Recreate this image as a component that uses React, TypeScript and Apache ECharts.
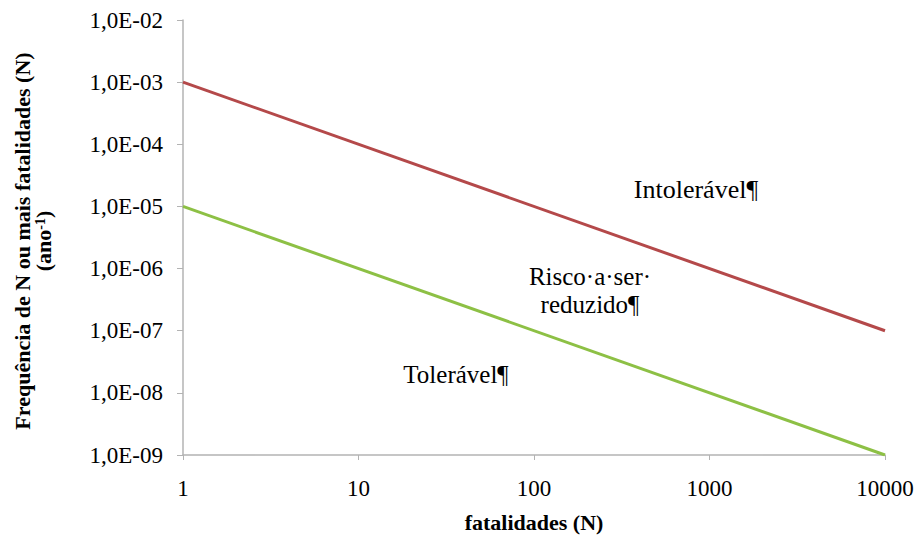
import React, { useEffect, useRef } from "react";
import * as echarts from "echarts";

const fatalities = [1, 10000];
const intolerableLimit = [1e-3, 1e-7];
const tolerableLimit = [1e-5, 1e-9];
const xTickLabels = ["1", "10", "100", "1000", "10000"];
const regionLabels = ["Intolerável¶", "Risco·a·ser·\nreduzido¶", "Tolerável¶"];

const SERIF = "Liberation Serif";

function fmtY(v: number): string {
  const e = Math.round(Math.log10(v));
  return "1,0E-" + String(-e).padStart(2, "0");
}

export default function App() {
  const ref = useRef<HTMLDivElement>(null);
  useEffect(() => {
    document.body.style.margin = "0";
    if (!ref.current) return;
    const chart = echarts.init(ref.current, null, { renderer: "svg" });
    const axisLine = { show: true, lineStyle: { color: "#b3b3b3", width: 1.5 } };
    chart.setOption({
      animation: false,
      backgroundColor: "#ffffff",
      grid: { left: 183, right: 32, top: 20, bottom: 87, containLabel: false, outerBoundsMode: "none" },
      xAxis: {
        type: "log",
        logBase: 10,
        min: 1,
        max: 10000,
        axisLine,
        axisTick: { show: true, length: 5, inside: false, lineStyle: { color: "#b3b3b3" } },
        splitLine: { show: false },
        minorTick: { show: false },
        axisLabel: {
          fontFamily: SERIF,
          fontSize: 23,
          color: "#000",
          margin: 22,
          formatter: (v: number) => xTickLabels[Math.round(Math.log10(v))] ?? String(v),
        },
        name: "fatalidades (N)",
        nameLocation: "middle",
        nameGap: 56,
        nameTextStyle: { fontFamily: SERIF, fontSize: 22, fontWeight: "bold", color: "#000" },
      },
      yAxis: {
        type: "log",
        logBase: 10,
        min: 1e-9,
        max: 1e-2,
        axisLine,
        axisTick: { show: true, length: 6, inside: false, lineStyle: { color: "#b3b3b3" } },
        splitLine: { show: false },
        axisLabel: {
          fontFamily: SERIF,
          fontSize: 23,
          color: "#000",
          margin: 20,
          formatter: fmtY,
        },
      },
      series: [
        {
          type: "line",
          data: fatalities.map((x, i) => [x, intolerableLimit[i]]),
          symbol: "none",
          lineStyle: { color: "#b4494a", width: 3 },
        },
        {
          type: "line",
          data: fatalities.map((x, i) => [x, tolerableLimit[i]]),
          symbol: "none",
          lineStyle: { color: "#8dc045", width: 3 },
        },
      ],
      graphic: [
        {
          type: "text",
          x: 33,
          y: 241,
          rotation: Math.PI / 2,
          style: {
            text: "{a|Frequência de N ou mais fatalidades (N)}\n{a|(ano}{s|-1}{a|)}",
            align: "center",
            verticalAlign: "middle",
            rich: {
              a: { fontFamily: SERIF, fontSize: 22, fontWeight: "bold", fill: "#000", lineHeight: 21, align: "center" },
              s: { fontFamily: SERIF, fontSize: 14, fontWeight: "bold", fill: "#000", verticalAlign: "top", lineHeight: 21, padding: [0, 0, 9, 0] },
            },
          },
        },
        {
          type: "text",
          x: 696,
          y: 189,
          style: { text: regionLabels[0], fontFamily: SERIF, fontSize: 26, fill: "#000", align: "center", verticalAlign: "middle" },
        },
        {
          type: "text",
          x: 590,
          y: 290,
          style: { text: regionLabels[1], fontFamily: SERIF, fontSize: 25, fill: "#000", align: "center", verticalAlign: "middle", lineHeight: 28 },
        },
        {
          type: "text",
          x: 456,
          y: 374,
          style: { text: regionLabels[2], fontFamily: SERIF, fontSize: 25, fill: "#000", align: "center", verticalAlign: "middle" },
        },
      ],
    });
    return () => chart.dispose();
  }, []);
  return <div ref={ref} style={{ width: 917, height: 542 }} />;
}
